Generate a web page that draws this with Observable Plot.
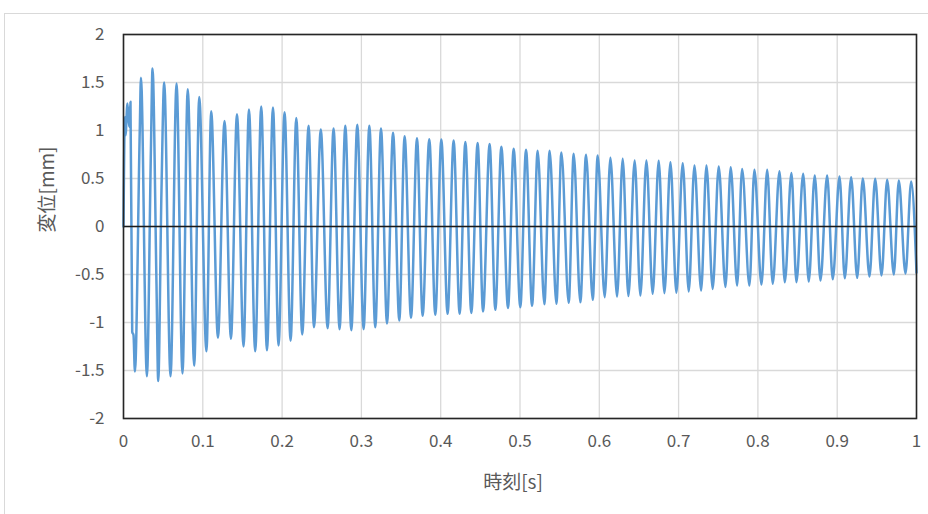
<!DOCTYPE html>
<html>
<head>
<meta charset="utf-8">
<script src="https://cdn.jsdelivr.net/npm/d3@7"></script>
<script src="https://cdn.jsdelivr.net/npm/@observablehq/plot@0.6"></script>
<style>
  html, body { margin: 0; padding: 0; background: #fff; }
  body { width: 928px; height: 514px; position: relative; overflow: hidden; }
  #border { position: absolute; left: 4px; top: 13px; width: 940px; height: 520px; border: 1px solid #d9d9d9; box-sizing: border-box; }
  #chart { position: absolute; left: 0; top: 0; }
</style>
</head>
<body>
<div id="border"></div>
<div id="chart"></div>
<script>
// Time [s] of each read point (transient start, then alternating peaks/troughs)
const time = [
  0, 0.0018, 0.0025, 0.005, 0.0072, 0.0088, 0.011, 0.0126, 0.0144,
  0.0205, 0.022, 0.0295, 0.0346, 0.0366, 0.0416, 0.0438, 0.0479, 0.0513,
  0.0593, 0.0669, 0.0744, 0.081, 0.0892, 0.0955, 0.1046, 0.1106, 0.1191,
  0.1274, 0.1355, 0.1431, 0.1514, 0.1582, 0.1661, 0.1737, 0.1809, 0.1885,
  0.1955, 0.2031, 0.2107, 0.2179, 0.2254, 0.2334, 0.2402, 0.2488, 0.2574,
  0.2649, 0.2725, 0.2797, 0.2873, 0.2948, 0.3028, 0.31, 0.3175, 0.3247,
  0.3323, 0.3399, 0.3478, 0.3545, 0.3626, 0.3701, 0.3772, 0.3856, 0.3932,
  0.4008, 0.4087, 0.4163, 0.4239, 0.4311, 0.4386, 0.4466, 0.4534, 0.4617,
  0.4689, 0.4765, 0.4849, 0.492, 0.5004, 0.5076, 0.5152, 0.5223, 0.5307,
  0.5374, 0.5459, 0.5522, 0.5614, 0.5677, 0.5761, 0.5833, 0.5917, 0.598,
  0.6068, 0.614, 0.6224, 0.6295, 0.6367, 0.6446, 0.6518, 0.6594, 0.6673,
  0.6749, 0.6821, 0.6897, 0.6972, 0.7052, 0.7128, 0.72, 0.7284, 0.7351,
  0.743, 0.7506, 0.7591, 0.7657, 0.7738, 0.7801, 0.7893, 0.7956, 0.8045,
  0.8117, 0.8187, 0.8272, 0.8339, 0.8423, 0.8486, 0.8571, 0.8641, 0.8717,
  0.8789, 0.8873, 0.8944, 0.9029, 0.9096, 0.9176, 0.9252, 0.9323, 0.9407,
  0.9479, 0.9559, 0.963, 0.9714, 0.9777, 0.9861, 0.9933, 1.0
];
// Displacement [mm] read at each time above
const disp = [
  0, 1.14, 0.95, 1.28, 1.04, 1.30, -1.10, -1.13, -1.51,
  1.0, 1.55, -1.56, 0.81, 1.645, -0.6, -1.61, 0.38, 1.50,
  -1.56, 1.49, -1.53, 1.43, -1.45, 1.35, -1.30, 1.20, -1.16,
  1.10, -1.17, 1.17, -1.25, 1.22, -1.30, 1.25, -1.29, 1.24,
  -1.24, 1.19, -1.19, 1.13, -1.125, 1.05, -1.05, 1.01, -1.06,
  1.02, -1.07, 1.05, -1.08, 1.06, -1.07, 1.05, -1.05, 1.02,
  -1.01, 0.976, -0.98, 0.94, -0.95, 0.92, -0.93, 0.91, -0.92,
  0.905, -0.91, 0.895, -0.91, 0.88, -0.90, 0.87, -0.885, 0.86,
  -0.868, 0.83, -0.85, 0.81, -0.84, 0.80, -0.826, 0.79, -0.81,
  0.79, -0.805, 0.77, -0.795, 0.757, -0.79, 0.747, -0.764, 0.74,
  -0.736, 0.716, -0.73, 0.705, -0.725, 0.6875, -0.72, 0.6875, -0.70,
  0.685, -0.695, 0.67, -0.69, 0.66, -0.677, 0.635, -0.667, 0.635,
  -0.65, 0.625, -0.63, 0.618, -0.615, 0.60, -0.615, 0.59, -0.604,
  0.59, -0.597, 0.576, -0.58, 0.556, -0.58, 0.55, -0.573, 0.53,
  -0.5625, 0.53, -0.55, 0.52, -0.54, 0.514, -0.535, 0.50, -0.52,
  0.497, -0.51, 0.486, -0.50, 0.48, -0.49, 0.47, -0.48
];
const xTicks = [0, 0.1, 0.2, 0.3, 0.4, 0.5, 0.6, 0.7, 0.8, 0.9, 1];
const yTicks = [-2, -1.5, -1, -0.5, 0, 0.5, 1, 1.5, 2];
const xLabel = "時刻[s]";
const yLabel = "変位[mm]";

const data = time.map((t, i) => ({t, v: disp[i]}));

const chart = Plot.plot({
  width: 928,
  height: 514,
  marginLeft: 123,
  marginRight: 12,
  marginTop: 34,
  marginBottom: 96,
  style: {fontFamily: "'Noto Sans CJK JP', 'Noto Sans', sans-serif", fontSize: "17px", color: "#595959", background: "transparent"},
  x: {domain: [0, 1]},
  y: {domain: [-2, 2]},
  marks: [
    Plot.gridX(xTicks, {stroke: "#d9d9d9", strokeOpacity: 1, strokeWidth: 1.3}),
    Plot.gridY(yTicks, {stroke: "#d9d9d9", strokeOpacity: 1, strokeWidth: 1.3}),
    Plot.axisX(xTicks, {tickSize: 0, tickPadding: 16, tickFormat: d => String(d), fontSize: 17, label: null}),
    Plot.axisY(yTicks, {tickSize: 0, tickPadding: 19, tickFormat: d => String(d), fontSize: 17, label: null}),
    Plot.text([xLabel], {frameAnchor: "bottom", dx: -7, dy: 64, lineAnchor: "middle", fontSize: 19, fill: "#595959"}),
    Plot.text([yLabel], {frameAnchor: "left", dx: -76, dy: 6, rotate: -90, lineAnchor: "middle", fontSize: 19, fill: "#595959"}),
    Plot.line(data, {x: "t", y: "v", curve: "monotone-x", stroke: "#5B9BD5", strokeWidth: 2.5}),
    Plot.ruleY([0], {stroke: "#1a1a1a", strokeWidth: 1.6}),
    Plot.frame({stroke: "#262626", strokeWidth: 1.6})
  ]
});
document.getElementById("chart").appendChild(chart);
</script>
</body>
</html>
